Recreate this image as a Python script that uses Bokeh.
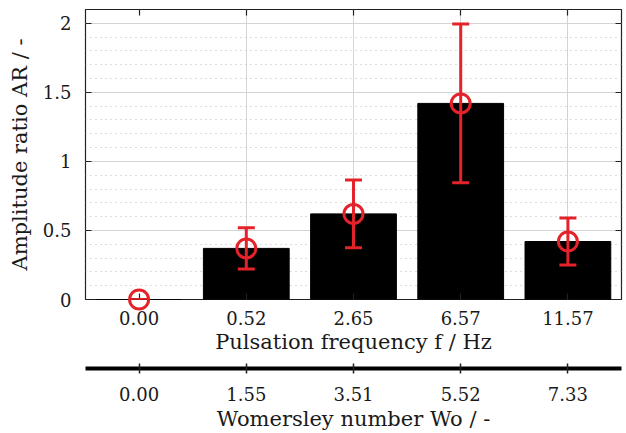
from bokeh.plotting import figure
from bokeh.models import (FactorRange, Range1d, CategoricalAxis, LinearAxis,
                          SingleIntervalTicker, Whisker, TeeHead,
                          ColumnDataSource, CustomLabelingPolicy)
from bokeh.embed import file_html
from bokeh.resources import INLINE

# Pulsation frequency (Hz) and matching Womersley numbers
freq_labels = ["0.00", "0.52", "2.65", "6.57", "11.57"]
wo_labels = ["0.00", "1.55", "3.51", "5.52", "7.33"]

# Amplitude ratio: mean and standard deviation per frequency
ar_mean = [0.0, 0.37, 0.62, 1.42, 0.42]
ar_std = [0.0, 0.15, 0.245, 0.575, 0.17]

FONT = "DejaVu Serif"
TICK_FS = "18px"
LABEL_FS = "21px"
RED = "#e4222a"
TEXT = "#1a1a1a"

src = ColumnDataSource(dict(
    f=freq_labels,
    mean=ar_mean,
    lower=[m - s for m, s in zip(ar_mean, ar_std)],
    upper=[m + s for m, s in zip(ar_mean, ar_std)],
))

p = figure(width=626, height=433,
           x_range=FactorRange(*freq_labels), y_range=Range1d(0, 2.1),
           output_backend="svg", toolbar_location=None,
           x_axis_location=None, y_axis_location=None,
           min_border_left=85, min_border_right=5,
           min_border_top=9, min_border_bottom=134)
p.extra_x_ranges = {"wo": FactorRange(*wo_labels)}

p.outline_line_color = "#222222"
p.outline_line_width = 1.2
p.background_fill_color = "white"
p.border_fill_color = "white"

# hides tick labels on the mirrored (tick-only) axes
no_labels = CustomLabelingPolicy(
    code="for (const i of [...indices]) indices.set(i, false); return indices;")

# left axis
yax = LinearAxis(ticker=SingleIntervalTicker(interval=0.5, num_minor_ticks=5))
yax.axis_label = "Amplitude ratio AR / -"
yax.major_label_overrides = {0: "0", 1: "1", 2: "2"}
p.add_layout(yax, "left")

# right axis: ticks only
yax_r = LinearAxis(ticker=SingleIntervalTicker(interval=0.5, num_minor_ticks=5))
yax_r.major_label_text_font_size = "0px"
yax_r.major_label_standoff = 0
yax_r.major_label_policy = no_labels
p.add_layout(yax_r, "right")

# bottom frequency axis
xax = CategoricalAxis()
xax.axis_label = "Pulsation frequency f / Hz"
p.add_layout(xax, "below")

# blank spacer between the two bottom axes: white ticks, no labels
gap = CategoricalAxis()
gap.major_label_policy = no_labels
gap.major_label_text_font_size = "0px"
gap.major_label_standoff = 0
p.add_layout(gap, "below")

# second bottom axis: Womersley number
wax = CategoricalAxis(x_range_name="wo")
wax.axis_label = "Womersley number Wo / -"
p.add_layout(wax, "below")

# top axis: ticks only
xax_t = CategoricalAxis()
xax_t.major_label_text_font_size = "0px"
xax_t.major_label_standoff = 0
xax_t.major_label_policy = no_labels
p.add_layout(xax_t, "above")

for ax in (yax, yax_r, xax, wax, xax_t):
    ax.axis_line_color = None
    ax.major_tick_in = 6
    ax.major_tick_out = 0
    ax.major_tick_line_color = "#222222"
    ax.major_tick_line_width = 1.2
    ax.minor_tick_line_color = None
    ax.major_label_text_font = FONT
    ax.axis_label_text_font = FONT
    ax.axis_label_text_font_style = "normal"
    ax.axis_label_text_color = TEXT
    ax.major_label_text_color = TEXT
    ax.axis_label_text_font_size = LABEL_FS

for ax in (yax, xax, wax):
    ax.major_label_text_font_size = TICK_FS

gap.axis_line_color = None
gap.major_tick_in = 0
gap.major_tick_out = 12
gap.major_tick_line_color = "white"
gap.major_tick_line_width = 1
gap.minor_tick_line_color = None

yax.major_label_standoff = 10
yax.axis_label_standoff = 8
xax.major_label_standoff = 11
xax.axis_label_standoff = 2
wax.axis_line_color = "black"
wax.axis_line_width = 4
wax.major_tick_in = 5
wax.major_tick_out = 5
wax.major_tick_line_width = 1.5
wax.major_label_standoff = 13
wax.axis_label_standoff = 3

# grids
p.xgrid.grid_line_color = "#d4d4d4"
p.xgrid.grid_line_width = 1
p.ygrid.ticker = yax.ticker
p.ygrid.grid_line_color = "#d4d4d4"
p.ygrid.grid_line_width = 1
p.ygrid.minor_grid_line_color = "#b8b8b8"
p.ygrid.minor_grid_line_dash = "1 4"
p.ygrid.minor_grid_line_width = 1.2

# bars
p.vbar(x="f", top="mean", width=0.8, source=src,
       fill_color="black", line_color="black", line_width=1)

# error bars and means, drawn over the bars
err = Whisker(base="f", upper="upper", lower="lower", source=src,
              level="overlay", line_color=RED, line_width=3,
              upper_head=TeeHead(size=17, line_color=RED, line_width=3),
              lower_head=TeeHead(size=17, line_color=RED, line_width=3))
p.add_layout(err)
p.scatter(x="f", y="mean", source=src, marker="circle", size=19,
          fill_color=None, line_color=RED, line_width=3, level="overlay")

open("out.html", "w").write(file_html(p, INLINE))
